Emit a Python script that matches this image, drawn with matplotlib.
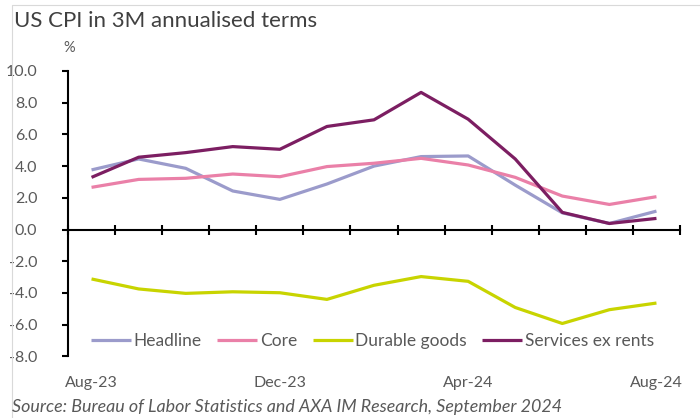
import numpy as np
import matplotlib.pyplot as plt
from matplotlib.lines import Line2D

TITLE = "US CPI in 3M annualised terms"
SOURCE = "Source: Bureau of Labor Statistics and AXA IM Research, September 2024"

months = ["Aug-23", "Sep-23", "Oct-23", "Nov-23", "Dec-23", "Jan-24", "Feb-24",
          "Mar-24", "Apr-24", "May-24", "Jun-24", "Jul-24", "Aug-24"]
shown_months = ["Aug-23", "Dec-23", "Apr-24", "Aug-24"]

headline = [3.76, 4.45, 3.86, 2.43, 1.90, 2.87, 4.00, 4.60, 4.64, 2.80, 1.05, 0.38, 1.16]
core = [2.66, 3.16, 3.23, 3.50, 3.33, 3.97, 4.18, 4.49, 4.07, 3.29, 2.11, 1.58, 2.07]
durable = [-3.12, -3.75, -4.03, -3.93, -3.99, -4.41, -3.52, -2.97, -3.27, -4.92, -5.93, -5.06, -4.64]
services = [3.29, 4.56, 4.85, 5.23, 5.06, 6.50, 6.92, 8.65, 6.96, 4.45, 1.08, 0.38, 0.70]

series = [
    ("Headline", headline, "#9b9bcb"),
    ("Core", core, "#ea80a8"),
    ("Durable goods", durable, "#c8d400"),
    ("Services ex rents", services, "#7c1e62"),
]


def plotter():
    plt.rcParams["font.family"] = ["Lato", "DejaVu Sans"]
    grey = "#595959"

    W, H = 700, 418
    fig = plt.figure(figsize=(W / 100, H / 100), dpi=100)
    ax = fig.add_axes([68 / W, 61.7 / H, 612 / W, 285.3 / H])

    x = np.arange(len(months))
    for name, vals, col in series:
        ax.plot(x, vals, color=col, lw=2.3, label=name, solid_capstyle="butt")

    ax.set_xlim(-0.5, len(months) - 0.5)
    ax.set_ylim(-8, 10)
    ax.set_yticks(np.arange(-8, 10.1, 2))
    ax.set_yticklabels([f"{v:.1f}" for v in np.arange(-8, 10.1, 2)])

    for s in ["top", "right"]:
        ax.spines[s].set_visible(False)
    ax.spines["left"].set_linewidth(1.5)
    ax.spines["bottom"].set_linewidth(1.5)
    ax.spines["bottom"].set_position(("data", 0))

    # category boundary ticks crossing the zero line
    ax.set_xticks(np.arange(-0.5, len(months), 1))
    ax.tick_params(axis="x", direction="inout", length=7, width=1.5,
                   labelbottom=False)
    ax.tick_params(axis="y", direction="out", length=4, width=1.5, pad=18,
                   labelcolor=grey, labelsize=11.5)

    # month labels sit low, below the plot
    sec = ax.secondary_xaxis("bottom")
    sec.set_xticks([months.index(m) for m in shown_months], shown_months)
    sec.tick_params(length=0, pad=14, labelcolor=grey, labelsize=11.5)
    sec.spines["bottom"].set_visible(False)

    ax.legend(loc="center", bbox_to_anchor=(0.4975, 0.055), ncol=4,
              frameon=False, fontsize=12.5, labelcolor=grey,
              handlelength=2.3, handletextpad=0.15, columnspacing=0.9,
              borderpad=0)

    fig.text(14 / W, 1 - 21 / H, TITLE, fontsize=16, color="#404040", va="center")
    fig.text(63 / W, 1 - 48 / H, "%", fontsize=10.5, color=grey, va="center")
    fig.text(12 / W, 1 - 407 / H, SOURCE, fontsize=12.9, style="italic",
             color=grey, va="center")

    # light chart-area border
    fig.add_artist(Line2D([12 / W, 12 / W, 1], [0, 1 - 5 / H, 1 - 5 / H],
                          transform=fig.transFigure, color="#d9d9d9", lw=0.8))
    return fig


if __name__ == "__main__":
    plotter()
    plt.savefig("out.png")
